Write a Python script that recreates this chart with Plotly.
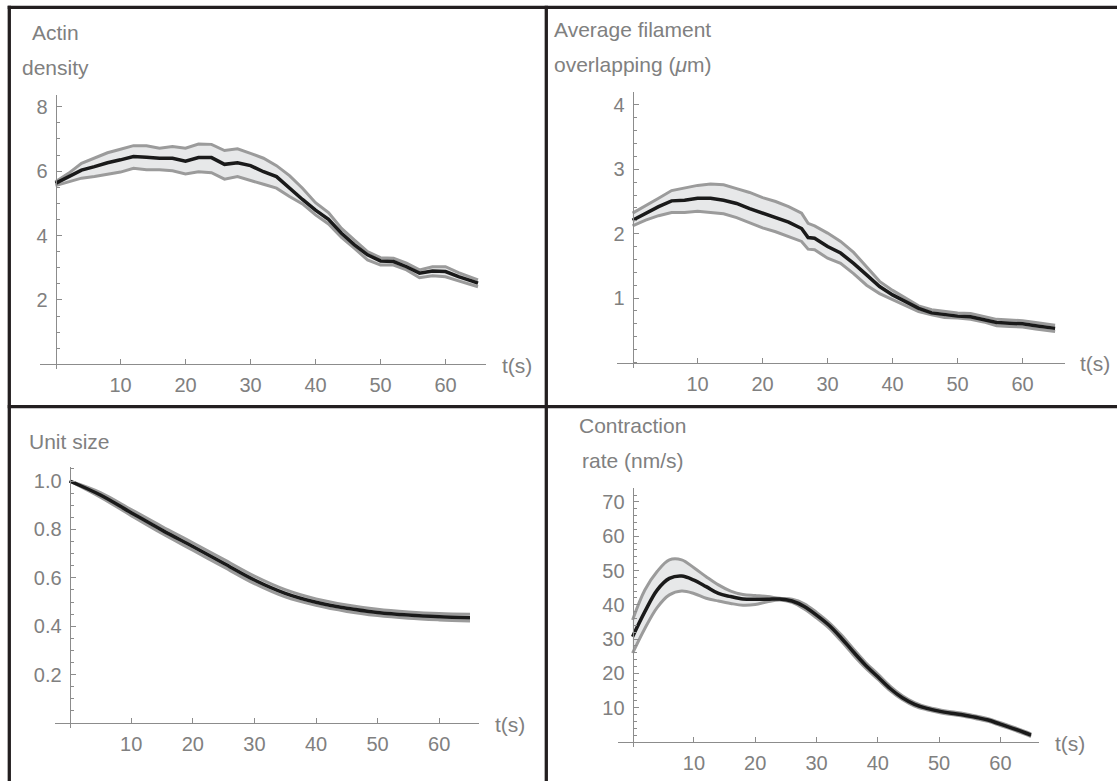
import plotly.graph_objects as go

# ---------------- data ----------------
t1 = [0, 2, 4, 6, 8, 10, 12, 14, 16, 18, 20, 22, 24, 26, 28, 30, 32, 34, 36, 38, 40,
      42, 44, 46, 48, 50, 52, 54, 56, 58, 60, 62, 64, 65]
mean1 = [5.62, 5.83, 6.03, 6.14, 6.26, 6.35, 6.45, 6.43, 6.40, 6.40, 6.31, 6.42, 6.42, 6.21,
         6.26, 6.17, 5.98, 5.83, 5.47, 5.12, 4.79, 4.50, 4.07, 3.71, 3.40, 3.21, 3.19, 3.03,
         2.83, 2.90, 2.88, 2.72, 2.59, 2.52]
upper1 = [5.67, 5.93, 6.24, 6.40, 6.57, 6.68, 6.79, 6.79, 6.71, 6.76, 6.71, 6.84, 6.83, 6.64,
          6.69, 6.55, 6.40, 6.17, 5.86, 5.47, 5.02, 4.71, 4.22, 3.86, 3.50, 3.31, 3.29, 3.14,
          2.93, 3.03, 3.03, 2.85, 2.70, 2.62]
lower1 = [5.55, 5.67, 5.78, 5.83, 5.91, 5.97, 6.09, 6.04, 6.04, 6.01, 5.91, 5.98, 5.95, 5.75,
          5.83, 5.72, 5.59, 5.47, 5.21, 4.98, 4.64, 4.36, 3.94, 3.60, 3.24, 3.08, 3.08, 2.93,
          2.69, 2.75, 2.72, 2.59, 2.46, 2.41]

t2 = [0, 2, 4, 6, 8, 10, 12, 14, 16, 18, 20, 22, 24, 26, 27, 28, 30, 32, 34, 36, 38, 40,
      42, 44, 46, 48, 50, 52, 54, 56, 58, 60, 62, 64, 65]
mean2 = [2.21, 2.32, 2.42, 2.51, 2.52, 2.55, 2.55, 2.52, 2.47, 2.39, 2.32, 2.25, 2.18, 2.08,
         1.94, 1.93, 1.80, 1.70, 1.54, 1.36, 1.18, 1.05, 0.94, 0.84, 0.77, 0.74, 0.72, 0.71,
         0.67, 0.62, 0.61, 0.60, 0.57, 0.55, 0.53]
upper2 = [2.32, 2.43, 2.55, 2.67, 2.71, 2.75, 2.77, 2.76, 2.70, 2.64, 2.56, 2.50, 2.42, 2.32,
          2.16, 2.12, 2.01, 1.88, 1.71, 1.49, 1.26, 1.12, 1.00, 0.88, 0.82, 0.79, 0.77, 0.76,
          0.72, 0.67, 0.66, 0.65, 0.62, 0.60, 0.58]
lower2 = [2.12, 2.21, 2.28, 2.33, 2.33, 2.35, 2.33, 2.31, 2.25, 2.17, 2.09, 2.03, 1.95, 1.88,
          1.76, 1.75, 1.62, 1.54, 1.38, 1.20, 1.07, 0.98, 0.89, 0.79, 0.74, 0.70, 0.69, 0.67,
          0.63, 0.57, 0.56, 0.55, 0.52, 0.50, 0.48]

t3 = [0, 5, 10, 15, 20, 25, 30, 35, 40, 45, 50, 55, 60, 65]
mean3 = [1.0, 0.942, 0.869, 0.797, 0.729, 0.660, 0.591, 0.536, 0.499, 0.474, 0.457, 0.446,
         0.439, 0.435]
upper3 = [1.0, 0.952, 0.882, 0.812, 0.745, 0.676, 0.607, 0.551, 0.513, 0.488, 0.470, 0.459,
          0.452, 0.449]
lower3 = [1.0, 0.933, 0.857, 0.783, 0.714, 0.645, 0.576, 0.521, 0.486, 0.461, 0.444, 0.433,
          0.426, 0.421]

t4 = [0, 2, 4, 6, 8, 10, 12, 14, 16, 18, 20, 22, 24, 26, 28, 30, 32, 34, 36, 38, 40,
      42, 44, 46, 48, 50, 52, 54, 56, 58, 60, 62, 64, 65]
mean4 = [30.7, 38.0, 44.3, 47.7, 48.4, 47.2, 45.3, 43.3, 42.4, 41.7, 41.6, 41.6, 41.7, 41.1,
         39.5, 37.0, 34.1, 30.4, 26.3, 22.4, 19.0, 15.6, 12.9, 11.0, 9.8, 9.0, 8.4, 7.9,
         7.2, 6.4, 5.2, 4.0, 2.7, 2.0]
upper4 = [35.6, 44.3, 49.7, 53.1, 53.1, 50.8, 48.2, 45.8, 44.0, 43.0, 42.7, 42.4, 41.9, 41.6,
          40.3, 37.8, 34.9, 31.3, 27.2, 23.2, 19.8, 16.3, 13.5, 11.5, 10.2, 9.4, 8.8, 8.3,
          7.6, 6.8, 5.6, 4.4, 3.1, 2.4]
lower4 = [25.9, 33.1, 39.2, 42.9, 44.0, 43.3, 41.9, 41.1, 40.4, 39.9, 40.1, 40.9, 41.4, 40.7,
          38.8, 36.2, 33.3, 29.5, 25.4, 21.6, 18.3, 15.0, 12.4, 10.5, 9.4, 8.6, 8.0, 7.5,
          6.8, 6.0, 4.8, 3.6, 2.3, 1.6]

x_ticks = [10, 20, 30, 40, 50, 60]
y_ticks1 = [2, 4, 6, 8]
y_ticks2 = [1, 2, 3, 4]
y_ticks3 = [0.2, 0.4, 0.6, 0.8, 1.0]
y_ticks4 = [10, 20, 30, 40, 50, 60, 70]

labels1 = ["Actin", "density"]
labels2 = ["Average filament", "overlapping (<i>\u03bc</i>m)"]
labels3 = ["Unit size"]
labels4 = ["Contraction", "rate (nm/s)"]
x_label = "t(s)"

# ---------------- layout geometry (pixels) ----------------
W, H = 1117, 781
FONT = "Liberation Sans, Arial, Helvetica, sans-serif"
TXT = "#808080"
AXC = "#8c8c8c"
BAND = "#9b9b9b"
FILL = "#e7e8e9"
MEANC = "#1a1a1a"
TICK_SIZE = 20
LABEL_SIZE = 21

panels = [
    dict(t=t1, m=mean1, u=upper1, l=lower1, yt=y_ticks1, yfmt="{:g}", minor=0.5,
         ox=55.5, sx=6.5, xl=40, xr=486, oy=364.3, sy=32.2, ytop=95, ybot=369.3,
         labels=labels1, lab_y=[32, 67], tx=517, ty=365, shape="linear"),
    dict(t=t2, m=mean2, u=upper2, l=lower2, yt=y_ticks2, yfmt="{:g}", minor=0.2,
         ox=632.6, sx=6.5, xl=617, xr=1065, oy=362.5, sy=64.4, ytop=92.3, ybot=368,
         labels=labels2, lab_y=[29.5, 65], tx=1095, ty=363, shape="linear"),
    dict(t=t3, m=mean3, u=upper3, l=lower3, yt=y_ticks3, yfmt="{:.1f}", minor=0.05,
         ox=69.6, sx=6.16, xl=55.4, xr=478.6, oy=723, sy=242, ytop=467.3, ybot=728.3,
         labels=labels3, lab_y=[441.7], tx=510, ty=724, shape="spline"),
    dict(t=t4, m=mean4, u=upper4, l=lower4, yt=y_ticks4, yfmt="{:g}", minor=2,
         ox=632.6, sx=6.13, xl=618, xr=1039.3, oy=742, sy=3.43, ytop=487.7, ybot=747,
         labels=labels4, lab_y=[425, 460], tx=1070, ty=743, shape="spline"),
]

fig = go.Figure()
annotations = []
layout_axes = {}

for i, p in enumerate(panels, start=1):
    xa = "x" if i == 1 else f"x{i}"
    ya = "y" if i == 1 else f"y{i}"
    fig.add_trace(go.Scatter(x=p["t"], y=p["l"], mode="lines", xaxis=xa, yaxis=ya,
                             line=dict(color=BAND, width=3, shape=p["shape"]),
                             showlegend=False, hoverinfo="skip"))
    fig.add_trace(go.Scatter(x=p["t"], y=p["u"], mode="lines", xaxis=xa, yaxis=ya,
                             line=dict(color=BAND, width=3, shape=p["shape"]),
                             fill="tonexty", fillcolor=FILL,
                             showlegend=False, hoverinfo="skip"))
    fig.add_trace(go.Scatter(x=p["t"], y=p["m"], mode="lines", xaxis=xa, yaxis=ya,
                             line=dict(color=MEANC, width=3.5, shape=p["shape"]),
                             showlegend=False, hoverinfo="skip"))

    xr = [(p["xl"] - p["ox"]) / p["sx"], (p["xr"] - p["ox"]) / p["sx"]]
    yr = [(p["oy"] - p["ybot"]) / p["sy"], (p["oy"] - p["ytop"]) / p["sy"]]
    xkey = "xaxis" if i == 1 else f"xaxis{i}"
    ykey = "yaxis" if i == 1 else f"yaxis{i}"
    layout_axes[xkey] = dict(
        domain=[p["xl"] / W, p["xr"] / W], range=xr, anchor="free",
        position=1 - p["oy"] / H, showgrid=False, zeroline=False,
        showline=True, linecolor=AXC, linewidth=1,
        tickmode="array", tickvals=x_ticks, ticktext=[str(v) for v in x_ticks],
        ticks="inside", ticklen=5, tickcolor=AXC, tickwidth=1,
        tickfont=dict(family=FONT, size=TICK_SIZE, color=TXT), ticklabelstandoff=3,
        fixedrange=True,
    )
    layout_axes[ykey] = dict(
        domain=[1 - p["ybot"] / H, 1 - p["ytop"] / H], range=yr, anchor="free",
        position=p["ox"] / W, showgrid=False, zeroline=False,
        showline=True, linecolor=AXC, linewidth=1,
        tickmode="array", tickvals=p["yt"], ticktext=[p["yfmt"].format(v) for v in p["yt"]],
        ticks="inside", ticklen=5, tickcolor=AXC, tickwidth=1,
        minor=dict(dtick=p["minor"], tick0=0, ticks="inside", ticklen=3,
                   tickcolor=AXC, tickwidth=1),
        tickfont=dict(family=FONT, size=TICK_SIZE, color=TXT), ticklabelstandoff=4,
        fixedrange=True,
    )
    for txt, yy in zip(p["labels"], p["lab_y"]):
        annotations.append(dict(text=txt, x=p["ox"] / W, y=1 - yy / H, xref="paper",
                                yref="paper", xanchor="center", yanchor="middle",
                                showarrow=False,
                                font=dict(family=FONT, size=LABEL_SIZE, color=TXT)))
    annotations.append(dict(text=x_label, x=p["tx"] / W, y=1 - p["ty"] / H, xref="paper",
                            yref="paper", xanchor="center", yanchor="middle",
                            showarrow=False, font=dict(family=FONT, size=LABEL_SIZE, color=TXT)))

BORDER = "#231f20"
shapes = [
    dict(type="line", xref="paper", yref="paper", x0=7.7 / W, x1=1.0,
         y0=1 - 7.3 / H, y1=1 - 7.3 / H, line=dict(color=BORDER, width=3.3)),
    dict(type="line", xref="paper", yref="paper", x0=9.3 / W, x1=9.3 / W,
         y0=1 - 5.7 / H, y1=0, line=dict(color=BORDER, width=3.3)),
    dict(type="line", xref="paper", yref="paper", x0=546.3 / W, x1=546.3 / W,
         y0=1 - 5.7 / H, y1=0, line=dict(color=BORDER, width=3.3)),
    dict(type="line", xref="paper", yref="paper", x0=7.7 / W, x1=1.0,
         y0=1 - 406.7 / H, y1=1 - 406.7 / H, line=dict(color=BORDER, width=3.3)),
]

fig.update_layout(
    width=W, height=H, margin=dict(l=0, r=0, t=0, b=0, pad=0),
    paper_bgcolor="white", plot_bgcolor="rgba(0,0,0,0)",
    showlegend=False, annotations=annotations, shapes=shapes,
    hovermode=False, **layout_axes,
)

fig.write_html(
    "out.html",
    config={"displayModeBar": False},
    post_script="document.body.style.margin='0';document.body.style.padding='0';"
                "document.body.style.overflow='hidden';",
)
